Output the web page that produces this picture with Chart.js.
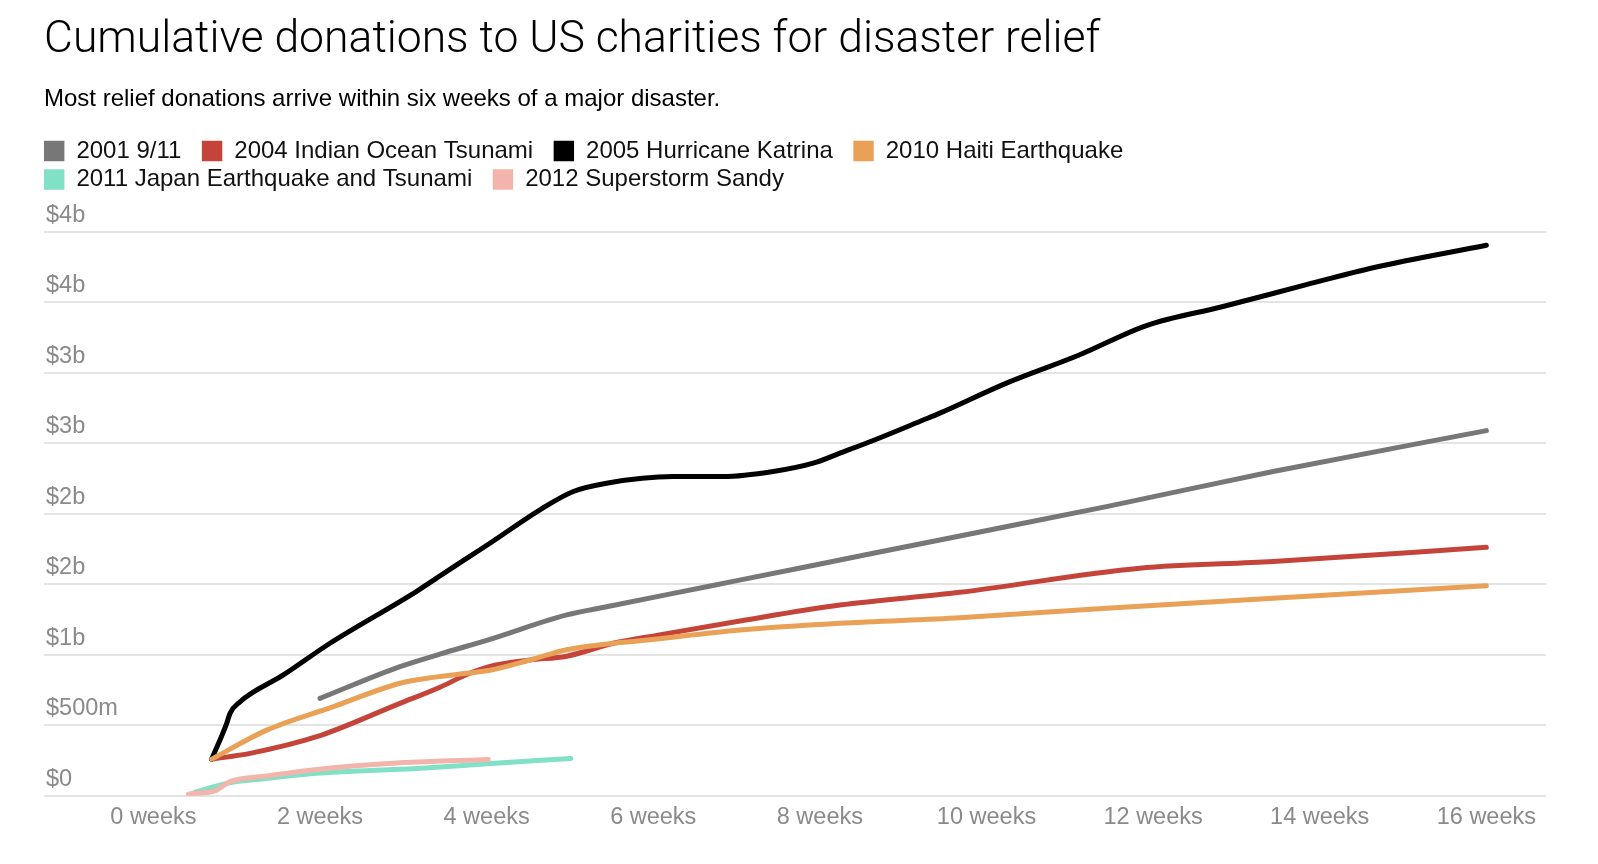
<!DOCTYPE html>
<html>
<head>
<meta charset="utf-8">
<script src="https://cdn.jsdelivr.net/npm/chart.js@4/dist/chart.umd.min.js"></script>
<style>
html,body{margin:0;padding:0;background:#fff;}
canvas{display:block;}
</style>
</head>
<body>
<canvas id="c" width="1598" height="864"></canvas>
<script>
// ---- Data (weeks since disaster, cumulative donations in $ billions) ----
const xTicks = [0, 2, 4, 6, 8, 10, 12, 14, 16];
const xTickLabels = ['0 weeks', '2 weeks', '4 weeks', '6 weeks', '8 weeks', '10 weeks', '12 weeks', '14 weeks', '16 weeks'];
const yTicks = [0, 0.5, 1, 1.5, 2, 2.5, 3, 3.5, 4];
const yTickLabels = ['$0', '$500m', '$1b', '$2b', '$2b', '$3b', '$3b', '$4b', '$4b'];

const seriesNames = ['2001 9/11', '2004 Indian Ocean Tsunami', '2005 Hurricane Katrina', '2010 Haiti Earthquake', '2011 Japan Earthquake and Tsunami', '2012 Superstorm Sandy'];
const seriesColors = ['#777777', '#c5443a', '#000000', '#e8a156', '#80e1c6', '#f2b4ab'];

const sept11Weeks = [2.0, 2.96, 3.44, 4.04, 4.96, 5.44, 6.64, 7.84, 9.68, 11.44, 13.44, 16.0];
const sept11Values = [0.691, 0.916, 1.005, 1.11, 1.283, 1.341, 1.483, 1.625, 1.843, 2.051, 2.3, 2.59];

const tsunamiWeeks = [0.70, 1.16, 1.96, 2.96, 3.44, 3.76, 4.04, 4.52, 4.96, 5.52, 6.04, 7.04, 8.24, 9.68, 11.84, 13.44, 16.0];
const tsunamiValues = [0.26, 0.301, 0.419, 0.656, 0.77, 0.86, 0.918, 0.963, 0.99, 1.082, 1.138, 1.24, 1.353, 1.443, 1.614, 1.661, 1.762];

const katrinaWeeks = [0.70, 0.88, 0.92, 1.04, 1.56, 2.12, 3.16, 3.44, 4.04, 4.64, 5.04, 5.44, 6.24, 6.84, 7.44, 7.92, 8.24, 8.64, 9.24, 9.44, 10.24, 11.12, 11.92, 12.84, 13.84, 14.64, 16.0];
const katrinaValues = [0.26, 0.514, 0.585, 0.667, 0.857, 1.082, 1.45, 1.56, 1.791, 2.028, 2.158, 2.217, 2.264, 2.264, 2.3, 2.359, 2.43, 2.52, 2.665, 2.714, 2.927, 3.128, 3.335, 3.47, 3.625, 3.745, 3.905];

const haitiWeeks = [0.70, 1.36, 2.16, 2.96, 3.36, 3.76, 4.04, 4.52, 4.96, 5.52, 5.84, 7.04, 8.24, 9.68, 11.44, 13.44, 16.0];
const haitiValues = [0.26, 0.466, 0.632, 0.798, 0.84, 0.869, 0.89, 0.963, 1.036, 1.082, 1.1, 1.176, 1.224, 1.263, 1.33, 1.401, 1.49];

const japanWeeks = [0.50, 0.88, 1.36, 1.96, 3.16, 3.96, 5.01];
const japanValues = [0.025, 0.088, 0.123, 0.159, 0.194, 0.225, 0.265];

const sandyWeeks = [0.42, 0.76, 0.82, 0.92, 1.36, 1.96, 2.96, 4.02];
const sandyValues = [0.012, 0.04, 0.064, 0.1, 0.14, 0.187, 0.234, 0.258];

const seriesWeeks = [sept11Weeks, tsunamiWeeks, katrinaWeeks, haitiWeeks, japanWeeks, sandyWeeks];
const seriesValues = [sept11Values, tsunamiValues, katrinaValues, haitiValues, japanValues, sandyValues];

// ---- Chart ----
const tickColor = '#8a8a8a';
const sans = "'Liberation Sans', Helvetica, Arial, sans-serif";
const legendPad = 4.5;

const datasets = seriesNames.map((name, i) => ({
  label: name,
  data: seriesWeeks[i].map((w, j) => ({ x: w, y: seriesValues[i][j] })),
  borderColor: seriesColors[i],
  backgroundColor: seriesColors[i],
  borderWidth: 5,
  borderCapStyle: 'round',
  borderJoinStyle: 'round',
  pointRadius: 0,
  pointHoverRadius: 0,
  cubicInterpolationMode: 'monotone',
  fill: false,
  order: seriesNames.length - 1 - i
}));

// keep legend boxes flush with the chart's left edge
const legendShift = {
  id: 'legendShift',
  afterLayout(chart) {
    if (chart.legend) {
      chart.legend.left -= legendPad;
      chart.legend.right -= legendPad;
    }
  }
};

new Chart(document.getElementById('c'), {
  type: 'line',
  data: { datasets },
  plugins: [legendShift],
  options: {
    responsive: false,
    animation: false,
    devicePixelRatio: 1,
    layout: { padding: { left: 44, right: 52, top: 0, bottom: 24 } },
    plugins: {
      title: {
        display: true,
        text: 'Cumulative donations to US charities for disaster relief',
        align: 'start',
        color: '#000',
        font: { family: "Roboto, 'Liberation Sans', sans-serif", weight: 300, size: 44.5, lineHeight: 1 },
        padding: { top: 18.5, bottom: 0 }
      },
      subtitle: {
        display: true,
        text: 'Most relief donations arrive within six weeks of a major disaster.',
        align: 'start',
        color: '#000',
        font: { family: sans, weight: 'normal', size: 24, lineHeight: 1 },
        padding: { top: 24, bottom: 23.5 }
      },
      legend: {
        display: true,
        position: 'top',
        align: 'start',
        labels: {
          boxWidth: 20.4,
          boxHeight: 20.4,
          padding: legendPad,
          color: '#111',
          font: { family: sans, size: 24 },
          sort: (a, b) => a.datasetIndex - b.datasetIndex,
          generateLabels: (chart) => Chart.defaults.plugins.legend.labels.generateLabels(chart).map(l => Object.assign(l, {
            text: l.text + '\u2002\u2006',
            lineWidth: 0,
            fillStyle: l.strokeStyle
          }))
        }
      },
      tooltip: { enabled: false }
    },
    scales: {
      x: {
        type: 'linear',
        min: -1.313,
        max: 16.716,
        afterBuildTicks: (s) => { s.ticks = xTicks.map(v => ({ value: v })); },
        ticks: {
          autoSkip: false,
          maxRotation: 0,
          padding: 8,
          color: tickColor,
          font: { family: sans, size: 23.5 },
          callback: (v, i) => xTickLabels[i]
        },
        grid: { display: false, drawTicks: false },
        border: { display: false }
      },
      y: {
        type: 'linear',
        min: 0,
        max: 4.215,
        afterBuildTicks: (s) => { s.ticks = yTicks.map(v => ({ value: v })); },
        afterFit: (s) => { s.width = 0; },
        ticks: {
          mirror: true,
          padding: 2,
          labelOffset: -16.5,
          color: tickColor,
          font: { family: sans, size: 23.5 },
          callback: (v, i) => yTickLabels[i]
        },
        grid: { color: '#e4e4e4', lineWidth: 2, drawTicks: false },
        border: { display: false }
      }
    }
  }
});
</script>
</body>
</html>
